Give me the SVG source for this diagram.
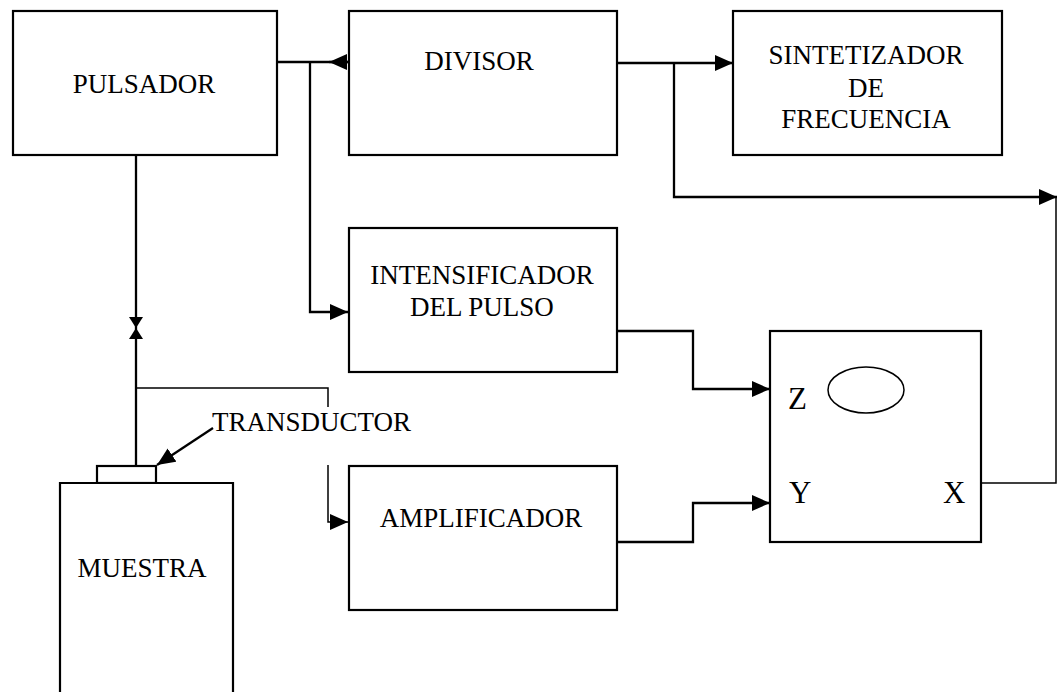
<svg xmlns="http://www.w3.org/2000/svg" width="1058" height="692" viewBox="0 0 1058 692">
<style>
.box{fill:#fff;stroke:#000;stroke-width:2.2}
.t{font-family:"Liberation Serif","Times New Roman",serif;font-size:27px;fill:#000;text-anchor:middle}
.big{font-family:"Liberation Serif","Times New Roman",serif;font-size:31px;fill:#000}
.c{fill:none;stroke:#000;stroke-width:2.3}
.thin{fill:none;stroke:#000;stroke-width:1.5}
</style>
<defs>
<marker id="ah" viewBox="0 0 18 16" markerWidth="18" markerHeight="16" refX="18" refY="8" orient="auto" markerUnits="userSpaceOnUse">
<path d="M0,0 L18,8 L0,16 z" fill="#000"/>
</marker>
<marker id="ahs" viewBox="0 0 11 14" markerWidth="11" markerHeight="14" refX="11" refY="7" orient="auto" markerUnits="userSpaceOnUse">
<path d="M0,0 L11,7 L0,14 z" fill="#000"/>
</marker>
</defs>
<g id="connectors">
<path class="c" d="M277,62 H348"/>
<path class="c" d="M348,62 H329" marker-end="url(#ah)"/>
<path class="c" d="M310,62 V312 H348" marker-end="url(#ah)"/>
<path class="c" d="M617,63 H733" marker-end="url(#ah)"/>
<path class="c" d="M674,63 V197 H1057" marker-end="url(#ah)"/>
<path class="thin" d="M1056,197 V483 H981"/>
<path class="c" d="M617,331 H693 V389 H770" marker-end="url(#ah)"/>
<path class="c" d="M617,542 H693 V503 H770" marker-end="url(#ah)"/>
<path class="c" d="M136,155 V328" marker-end="url(#ahs)"/>
<path class="c" d="M136,466 V328" marker-end="url(#ahs)"/>
<path class="thin" d="M136,388 H328 V407"/>
<path class="thin" d="M328,465 V522 H348" marker-end="url(#ah)"/>
<path class="c" d="M213,428 L157,465" marker-end="url(#ah)"/>
</g>
<g id="pulsador">
<rect class="box" x="13" y="11" width="264" height="144"/>
<text class="t" x="144" y="93">PULSADOR</text>
</g>
<g id="divisor">
<rect class="box" x="349" y="11" width="268" height="144"/>
<text class="t" x="479" y="70">DIVISOR</text>
</g>
<g id="sintetizador">
<rect class="box" x="733" y="11" width="269" height="144"/>
<text class="t" x="866" y="64">SINTETIZADOR</text>
<text class="t" x="866" y="97">DE</text>
<text class="t" x="866" y="128">FRECUENCIA</text>
</g>
<g id="intensificador">
<rect class="box" x="349" y="228" width="268" height="144"/>
<text class="t" x="482" y="284">INTENSIFICADOR</text>
<text class="t" x="482" y="316">DEL PULSO</text>
</g>
<g id="amplificador">
<rect class="box" x="349" y="466" width="268" height="144"/>
<text class="t" x="481" y="527">AMPLIFICADOR</text>
</g>
<g id="osciloscopio">
<rect class="box" x="770" y="331" width="211" height="211"/>
<ellipse cx="866" cy="390" rx="38" ry="23" fill="none" stroke="#000" stroke-width="1.5"/>
<text class="big" x="788" y="409">Z</text>
<text class="big" x="789" y="503">Y</text>
<text class="big" x="943" y="503">X</text>
</g>
<g id="transductor">
<rect class="box" x="97" y="466" width="59" height="17"/>
<text class="t" x="212" y="431" style="text-anchor:start">TRANSDUCTOR</text>
</g>
<g id="muestra">
<path class="box" d="M60,692 V483 H233 V692"/>
<text class="t" x="142" y="577">MUESTRA</text>
</g>
</svg>
